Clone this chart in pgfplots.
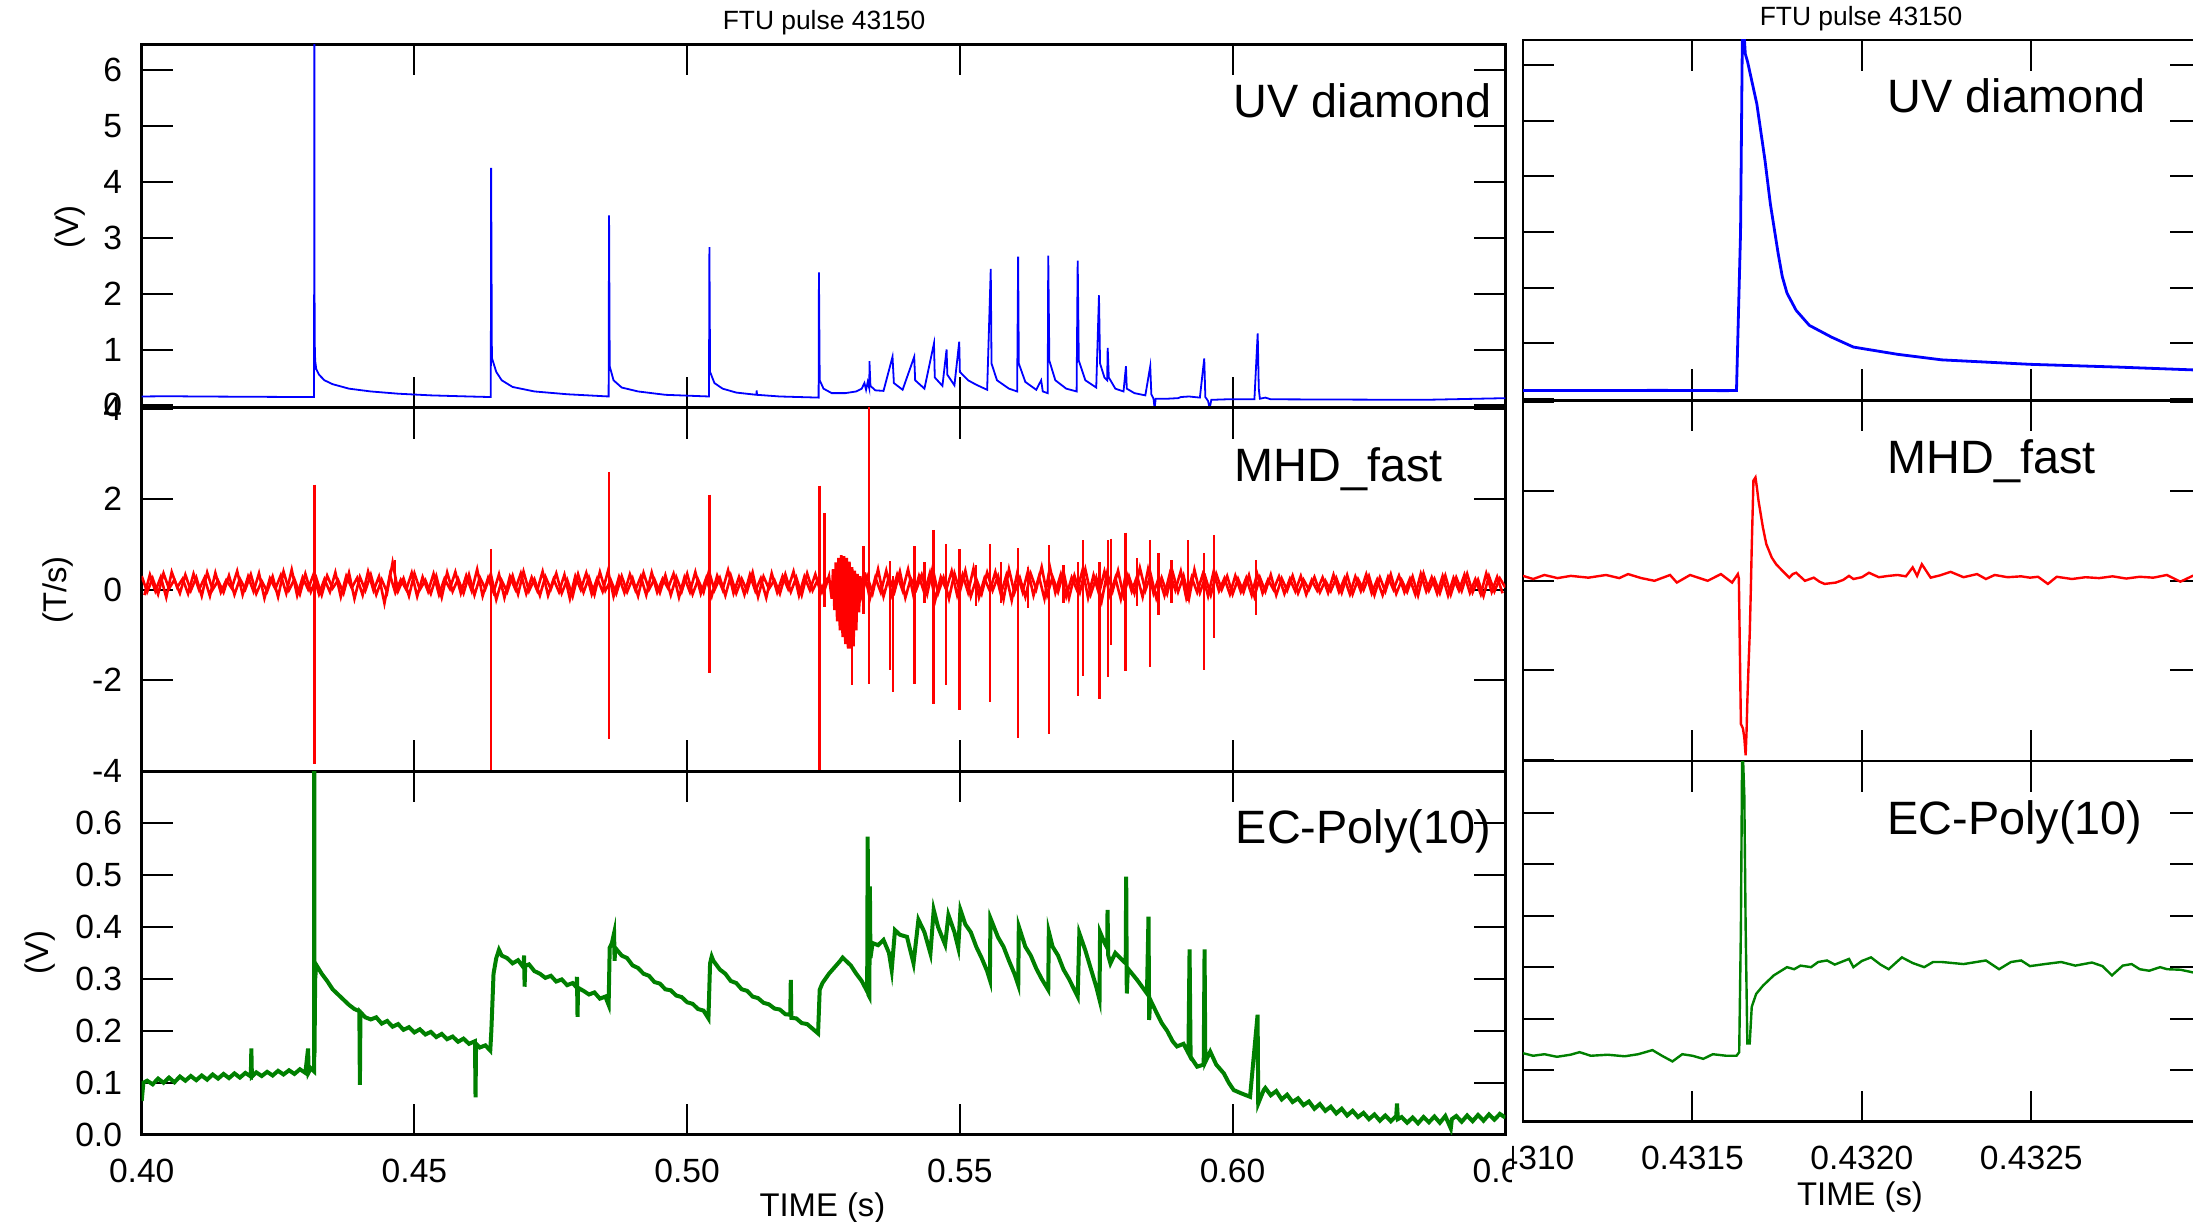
\documentclass[border=0pt]{standalone}
\usepackage{fontspec}
\setmainfont{Liberation Sans}
\usepackage{pgfplots}
\pgfplotsset{compat=1.18}
\definecolor{uvblue}{RGB}{0,0,255}
\definecolor{mhdred}{RGB}{255,0,0}
\definecolor{ecgreen}{RGB}{0,128,0}
\pgfplotsset{
  panel/.style={
    scale only axis,
    anchor=south west,
    axis line style={line width=0.67pt},
    every tick/.style={line width=0.5pt, black},
    major tick length=7.75pt,
    tick align=inside,
    tick pos=both,
    ticklabel pos=left,
    ticklabel style={font=\fontsize{8.4}{10}\selectfont},
    xticklabel style={yshift=-2.6pt},
    yticklabel style={xshift=-1.4pt},
    unbounded coords=jump,
  },
  leftpanel/.style={panel, width=340.9pt, height=90.875pt, xmin=0.40, xmax=0.65,
    xtick={0.40,0.45,0.50,0.55,0.60,0.65}},
  rightpanel/.style={panel, width=169.425pt, height=90.15pt, xmin=0.4310, xmax=0.4330,
    xtick={0.4310,0.4315,0.4320,0.4325,0.4330}, yticklabels={}},
}
\begin{document}
\begin{tikzpicture}
% ===================== LEFT: top (UV diamond) =====================
\begin{axis}[leftpanel, at={(35.43pt,203.33pt)}, ymin=-0.04, ymax=6.46,
  ytick={0,1,2,3,4,5,6}, yticklabels={0,1,2,3,4,5,6}, xticklabels={}]
\addplot[uvblue, line width=0.45pt] coordinates {
(0.4000,0.16)(0.4050,0.165)(0.4100,0.16)(0.4200,0.155)(0.4300,0.15)(0.4316,0.15)
(0.43165,7.5)(0.4317,1.2)(0.4318,0.80)(0.4320,0.65)(0.4325,0.55)(0.4335,0.45)(0.4350,0.38)
(0.4380,0.30)(0.4420,0.25)(0.4470,0.21)(0.4530,0.18)(0.4600,0.16)(0.4640,0.15)
(0.46406,4.25)(0.4642,0.85)(0.4650,0.60)(0.4660,0.45)(0.4680,0.33)(0.4720,0.25)(0.4780,0.20)(0.4856,0.16)
(0.48568,3.40)(0.4858,0.70)(0.4865,0.45)(0.4880,0.32)(0.4910,0.25)(0.4960,0.19)(0.5040,0.16)
(0.50408,2.83)(0.5042,0.60)(0.5050,0.40)(0.5065,0.30)(0.5090,0.23)(0.5127,0.19)(0.51275,0.27)(0.5128,0.19)(0.5170,0.16)(0.5241,0.14)
(0.52416,2.38)(0.5243,0.45)(0.5250,0.30)(0.5265,0.22)(0.5290,0.22)(0.5310,0.25)(0.5320,0.30)(0.5325,0.40)(0.5328,0.28)(0.5331,0.42)(0.5334,0.30)
(0.53342,0.79)(0.5336,0.35)(0.5345,0.27)(0.5360,0.26)
(0.53765,0.87)(0.5379,0.40)(0.5395,0.28)
(0.54163,0.87)(0.5418,0.45)(0.5435,0.30)
(0.54525,1.11)(0.5454,0.50)(0.5468,0.35)
(0.54756,1.00)(0.5477,0.55)(0.5490,0.36)
(0.54988,1.14)(0.5500,0.60)(0.5515,0.45)(0.5530,0.37)(0.5550,0.28)
(0.55566,2.44)(0.5558,0.75)(0.5568,0.45)(0.5590,0.30)(0.5605,0.25)
(0.56068,2.66)(0.5608,0.75)(0.5620,0.42)(0.5640,0.28)(0.5649,0.45)(0.5652,0.25)(0.5661,0.22)
(0.5662,2.68)(0.5664,0.80)(0.5675,0.45)(0.5695,0.30)(0.5714,0.25)
(0.5716,2.59)(0.5718,0.80)(0.5730,0.45)(0.5750,0.32)
(0.5755,1.97)(0.5757,0.75)(0.5765,0.50)(0.5770,0.45)
(0.5771,1.03)(0.5773,0.50)(0.5785,0.30)(0.5800,0.25)
(0.58045,0.70)(0.5806,0.30)(0.5820,0.22)(0.5840,0.18)
(0.5849,0.70)(0.5851,0.20)(0.5855,0.12)(0.5857,-0.05)(0.5859,0.12)(0.5880,0.12)(0.5900,0.13)(0.5905,0.15)(0.5920,0.16)(0.5940,0.14)
(0.5948,0.84)(0.5950,0.15)(0.5955,0.08)(0.5958,-0.05)(0.5961,0.10)(0.5990,0.11)(0.6040,0.11)
(0.6046,1.29)(0.6048,0.30)(0.6050,0.12)(0.6060,0.14)(0.6070,0.11)(0.6200,0.105)(0.6350,0.10)(0.6450,0.12)(0.6500,0.13)
};
\end{axis}
% ===================== LEFT: middle (MHD_fast) =====================
\begin{axis}[leftpanel, at={(35.43pt,112.45pt)}, ymin=-4.01, ymax=4.02,
  ytick={-4,-2,0,2,4}, yticklabels={-4,-2,0,2,4}, xticklabels={}]
\addplot[mhdred, line width=0.65pt] coordinates {
(0.400,0.30)(0.401,-0.05)(0.402,0.25)(0.403,-0.10)(0.404,0.36)(0.405,0.02)(0.406,0.22)(0.407,-0.08)(0.408,0.33)(0.409,-0.02)
(0.410,0.27)(0.411,-0.14)(0.412,0.38)(0.413,0.00)(0.414,0.20)(0.415,-0.06)(0.416,0.31)(0.417,-0.11)(0.418,0.24)(0.419,0.01)
(0.420,0.34)(0.421,-0.09)(0.422,0.19)(0.423,-0.04)(0.424,0.29)(0.425,-0.16)(0.426,0.40)(0.427,-0.01)(0.428,0.23)(0.429,-0.10)
(0.430,0.35)(0.431,-0.05)(0.432,0.26)(0.433,-0.12)(0.434,0.31)(0.435,0.03)(0.436,0.21)(0.437,-0.08)(0.438,0.37)(0.439,-0.20)
(0.440,0.28)(0.441,-0.02)(0.442,0.33)(0.443,-0.11)(0.444,0.22)(0.445,-0.06)(0.446,0.60)(0.447,-0.03)(0.448,0.25)(0.449,-0.14)
(0.450,0.36)(0.451,0.00)(0.452,0.21)(0.453,-0.09)(0.454,0.30)(0.455,-0.17)(0.456,0.38)(0.457,-0.04)(0.458,0.24)(0.459,-0.08)
(0.460,0.33)(0.461,-0.12)(0.462,0.27)(0.463,0.02)(0.464,0.35)(0.465,-0.22)(0.466,0.20)(0.467,-0.05)(0.468,0.31)(0.469,-0.10)
(0.470,0.40)(0.471,-0.03)(0.472,0.23)(0.473,-0.13)(0.474,0.29)(0.475,0.01)(0.476,0.36)(0.477,-0.08)(0.478,0.22)(0.479,-0.15)
(0.480,0.34)(0.481,-0.06)(0.482,0.27)(0.483,-0.11)(0.484,0.39)(0.485,-0.02)(0.486,0.21)(0.487,-0.09)(0.488,0.30)(0.489,-0.05)
(0.490,0.25)(0.491,-0.14)(0.492,0.37)(0.493,0.00)(0.494,0.23)(0.495,-0.07)(0.496,0.32)(0.497,-0.12)(0.498,0.28)(0.499,-0.04)
(0.500,0.35)(0.501,-0.10)(0.502,0.22)(0.503,-0.06)(0.504,0.41)(0.505,-0.01)(0.506,0.26)(0.507,-0.13)(0.508,0.31)(0.509,-0.08)
(0.510,0.24)(0.511,-0.03)(0.512,0.38)(0.513,-0.16)(0.514,0.29)(0.515,0.02)(0.516,0.21)(0.517,-0.09)(0.518,0.34)(0.519,-0.05)
(0.520,0.27)(0.521,-0.12)(0.522,0.36)(0.523,-0.02)(0.524,0.23)(0.525,-0.08)(0.526,0.30)
(0.5265,-0.20)(0.52675,0.45)(0.5270,-0.45)(0.52725,0.60)(0.5275,-0.70)(0.52775,0.70)(0.5280,-0.90)(0.52825,0.76)(0.5285,-1.05)(0.52875,0.74)
(0.5290,-1.20)(0.52925,0.70)(0.5295,-1.30)(0.52975,0.62)(0.5300,-1.30)(0.53025,0.50)(0.5305,-1.25)(0.53075,0.42)(0.5310,-0.90)(0.53125,0.35)(0.5315,-0.50)(0.53175,0.30)
(0.532,-0.12)(0.533,0.30)(0.534,-0.08)(0.535,0.45)(0.536,-0.15)(0.537,0.28)(0.538,-0.05)(0.539,0.40)
(0.540,-0.18)(0.541,0.25)(0.542,0.00)(0.543,0.33)(0.544,-0.10)(0.545,0.48)(0.546,-0.08)(0.547,0.27)(0.548,-0.20)(0.549,0.36)
(0.550,-0.04)(0.551,0.42)(0.552,-0.15)(0.553,0.24)(0.554,-0.09)(0.555,0.38)(0.556,-0.02)(0.557,0.30)(0.558,-0.22)(0.559,0.45)
(0.560,-0.07)(0.561,0.26)(0.562,-0.16)(0.563,0.35)(0.564,0.01)(0.565,0.50)(0.566,-0.12)(0.567,0.28)(0.568,-0.05)(0.569,0.40)
(0.570,-0.19)(0.571,0.31)(0.572,-0.06)(0.573,0.45)(0.574,-0.10)(0.575,0.27)(0.576,-0.25)(0.577,0.37)(0.578,-0.03)(0.579,0.42)
(0.580,-0.14)(0.581,0.29)(0.582,-0.08)(0.583,0.48)(0.584,-0.02)(0.585,0.33)(0.586,-0.18)(0.587,0.26)(0.588,-0.09)(0.589,0.39)
(0.590,-0.05)(0.591,0.31)(0.592,-0.20)(0.593,0.44)(0.594,-0.07)(0.595,0.28)(0.596,-0.12)(0.597,0.35)(0.598,0.00)(0.599,0.30)
(0.600,-0.10)(0.601,0.24)(0.602,-0.06)(0.603,0.32)(0.604,-0.15)(0.605,0.27)(0.606,-0.04)(0.607,0.33)(0.608,-0.12)(0.609,0.25)
(0.610,-0.02)(0.611,0.31)(0.612,-0.08)(0.613,0.22)(0.614,0.00)(0.615,0.28)(0.616,-0.06)(0.617,0.20)(0.618,-0.03)(0.619,0.26)
(0.620,-0.07)(0.621,0.32)(0.622,-0.10)(0.623,0.23)(0.624,-0.01)(0.625,0.30)(0.626,-0.12)(0.627,0.27)(0.628,-0.04)(0.629,0.34)
(0.630,-0.09)(0.631,0.21)(0.632,-0.05)(0.633,0.29)(0.634,-0.13)(0.635,0.36)(0.636,-0.02)(0.637,0.24)(0.638,-0.08)(0.639,0.31)
(0.640,-0.11)(0.641,0.27)(0.642,-0.03)(0.643,0.35)(0.644,-0.06)(0.645,0.22)(0.646,-0.14)(0.647,0.30)(0.648,-0.04)(0.649,0.25)(0.650,0.05)
};
\addplot[mhdred, line width=0.65pt] coordinates {
(0.4005,-0.12)(0.4015,0.33)(0.4025,-0.03)(0.4035,0.28)(0.4045,-0.17)(0.4055,0.39)(0.4065,0.05)(0.4075,0.24)(0.4085,-0.09)(0.4095,0.35)
(0.4105,0.00)(0.4115,0.26)(0.4125,-0.14)(0.4135,0.37)(0.4145,-0.06)(0.4155,0.21)(0.4165,0.03)(0.4175,0.41)(0.4185,-0.11)(0.4195,0.29)
(0.4205,-0.04)(0.4215,0.36)(0.4225,-0.19)(0.4235,0.25)(0.4245,0.02)(0.4255,0.32)(0.4265,-0.08)(0.4275,0.44)(0.4285,-0.13)(0.4295,0.27)
(0.4305,0.01)(0.4315,0.34)(0.4325,-0.10)(0.4335,0.23)(0.4345,-0.05)(0.4355,0.38)(0.4365,-0.16)(0.4375,0.30)(0.4385,0.04)(0.4395,0.26)
(0.4405,-0.12)(0.4415,0.40)(0.4425,-0.02)(0.4435,0.29)(0.4445,-0.30)(0.4455,0.33)(0.4465,-0.07)(0.4475,0.22)(0.4485,0.00)(0.4495,0.37)
(0.4505,-0.15)(0.4515,0.28)(0.4525,-0.04)(0.4535,0.35)(0.4545,-0.11)(0.4555,0.24)(0.4565,0.02)(0.4575,0.39)(0.4585,-0.08)(0.4595,0.31)
(0.4605,-0.03)(0.4615,0.45)(0.4625,-0.14)(0.4635,0.26)(0.4645,-0.06)(0.4655,0.34)(0.4665,-0.18)(0.4675,0.29)(0.4685,0.01)(0.4695,0.36)
(0.4705,-0.09)(0.4715,0.27)(0.4725,-0.02)(0.4735,0.40)(0.4745,-0.13)(0.4755,0.23)(0.4765,-0.05)(0.4775,0.33)(0.4785,-0.20)(0.4795,0.30)
(0.4805,0.00)(0.4815,0.37)(0.4825,-0.10)(0.4835,0.25)(0.4845,-0.04)(0.4855,0.42)(0.4865,-0.15)(0.4875,0.28)(0.4885,-0.07)(0.4895,0.34)
(0.4905,-0.01)(0.4915,0.29)(0.4925,-0.12)(0.4935,0.38)(0.4945,-0.06)(0.4955,0.24)(0.4965,0.03)(0.4975,0.35)(0.4985,-0.17)(0.4995,0.27)
(0.5005,-0.05)(0.5015,0.39)(0.5025,-0.09)(0.5035,0.26)(0.5045,-0.14)(0.5055,0.31)(0.5065,0.00)(0.5075,0.43)(0.5085,-0.08)(0.5095,0.28)
(0.5105,-0.11)(0.5115,0.33)(0.5125,-0.03)(0.5135,0.25)(0.5145,-0.18)(0.5155,0.36)(0.5165,-0.06)(0.5175,0.30)(0.5185,0.02)(0.5195,0.40)
(0.5205,-0.13)(0.5215,0.29)(0.5225,-0.01)(0.5235,0.34)(0.5245,-0.07)(0.5255,0.27)(0.5260,nan)
(0.5325,0.38)(0.5335,-0.20)(0.5345,0.27)(0.5355,-0.06)(0.5365,0.42)(0.5375,-0.11)(0.5385,0.33)(0.5395,-0.02)
(0.5405,0.45)(0.5415,-0.14)(0.5425,0.30)(0.5435,-0.08)(0.5445,0.37)(0.5455,-0.22)(0.5465,0.28)(0.5475,0.00)(0.5485,0.41)(0.5495,-0.12)
(0.5505,0.33)(0.5515,-0.06)(0.5525,0.47)(0.5535,-0.17)(0.5545,0.25)(0.5555,-0.03)(0.5565,0.39)(0.5575,-0.10)(0.5585,0.31)(0.5595,-0.24)
(0.5605,0.36)(0.5615,-0.05)(0.5625,0.42)(0.5635,-0.13)(0.5645,0.29)(0.5655,-0.20)(0.5665,0.50)(0.5675,-0.07)(0.5685,0.34)(0.5695,-0.15)
(0.5705,0.27)(0.5715,-0.02)(0.5725,0.44)(0.5735,-0.18)(0.5745,0.32)(0.5755,-0.09)(0.5765,0.40)(0.5775,-0.12)(0.5785,0.26)(0.5795,-0.21)
(0.5805,0.38)(0.5815,-0.04)(0.5825,0.30)(0.5835,-0.16)(0.5845,0.45)(0.5855,-0.08)(0.5865,0.28)(0.5875,-0.13)(0.5885,0.36)(0.5895,-0.01)
(0.5905,0.41)(0.5915,-0.18)(0.5925,0.27)(0.5935,-0.06)(0.5945,0.33)(0.5955,-0.14)(0.5965,0.39)(0.5975,-0.03)(0.5985,0.25)(0.5995,-0.10)
(0.6005,0.31)(0.6015,-0.05)(0.6025,0.26)(0.6035,-0.12)(0.6045,0.35)(0.6055,-0.08)(0.6065,0.22)(0.6075,0.00)(0.6085,0.29)(0.6095,-0.09)
(0.6105,0.24)(0.6115,-0.04)(0.6125,0.30)(0.6135,-0.11)(0.6145,0.21)(0.6155,-0.02)(0.6165,0.27)(0.6175,-0.07)(0.6185,0.33)(0.6195,-0.05)
(0.6205,0.25)(0.6215,-0.10)(0.6225,0.29)(0.6235,-0.03)(0.6245,0.34)(0.6255,-0.08)(0.6265,0.22)(0.6275,-0.12)(0.6285,0.28)(0.6295,0.00)
(0.6305,0.31)(0.6315,-0.06)(0.6325,0.24)(0.6335,-0.11)(0.6345,0.35)(0.6355,-0.04)(0.6365,0.27)(0.6375,-0.09)(0.6385,0.30)(0.6395,-0.13)
(0.6405,0.26)(0.6415,-0.02)(0.6425,0.33)(0.6435,-0.07)(0.6445,0.23)(0.6455,-0.10)(0.6465,0.36)(0.6475,-0.05)(0.6485,0.28)(0.6495,-0.08)
};
\addplot[mhdred, line width=0.55pt] coordinates {
(0.43166,2.32)(0.43166,-3.86)(0.43166,nan)
(0.44645,0.66)(0.44645,-0.05)(0.44645,nan)
(0.46406,0.90)(0.46406,-4.5)(0.46406,nan)
(0.48568,2.60)(0.48568,-3.29)(0.48568,nan)
(0.50408,2.10)(0.50408,-1.84)(0.50408,nan)
(0.52426,2.30)(0.52426,-4.5)(0.52426,nan)
(0.52518,1.69)(0.52518,-0.38)(0.52518,nan)
(0.53020,0.20)(0.53020,-2.11)(0.53020,nan)
(0.53233,0.96)(0.53233,-0.53)(0.53233,nan)
(0.53338,4.5)(0.53338,-2.08)(0.53338,nan)
(0.53722,0.63)(0.53722,-1.78)(0.53722,nan)
(0.53773,0.30)(0.53773,-2.27)(0.53773,nan)
(0.54168,0.96)(0.54168,-2.08)(0.54168,nan)
(0.5435,0.60)(0.5435,-0.30)(0.5435,nan)
(0.54517,1.32)(0.54517,-2.52)(0.54517,nan)
(0.54744,1.01)(0.54744,-2.11)(0.54744,nan)
(0.54994,0.89)(0.54994,-2.66)(0.54994,nan)
(0.5530,0.55)(0.5530,-0.35)(0.5530,nan)
(0.55556,1.01)(0.55556,-2.48)(0.55556,nan)
(0.5575,0.60)(0.5575,-0.30)(0.5575,nan)
(0.56070,0.92)(0.56070,-3.28)(0.56070,nan)
(0.5625,0.50)(0.5625,-0.40)(0.5625,nan)
(0.56633,0.98)(0.56633,-3.18)(0.56633,nan)
(0.5690,0.55)(0.5690,-0.30)(0.5690,nan)
(0.57165,0.60)(0.57165,-2.36)(0.57165,nan)
(0.57256,1.09)(0.57256,-1.91)(0.57256,nan)
(0.57561,0.60)(0.57561,-2.42)(0.57561,nan)
(0.57715,1.09)(0.57715,-1.94)(0.57715,nan)
(0.57776,1.13)(0.57776,-1.23)(0.57776,nan)
(0.58038,1.26)(0.58038,-1.80)(0.58038,nan)
(0.5825,0.70)(0.5825,-0.35)(0.5825,nan)
(0.58491,1.10)(0.58491,-1.71)(0.58491,nan)
(0.58643,0.81)(0.58643,-0.55)(0.58643,nan)
(0.5888,0.65)(0.5888,-0.30)(0.5888,nan)
(0.59175,1.09)(0.59175,-0.24)(0.59175,nan)
(0.59481,0.81)(0.59481,-1.78)(0.59481,nan)
(0.59664,1.21)(0.59664,-1.06)(0.59664,nan)
(0.60434,0.66)(0.60434,-0.55)
};
\end{axis}
% ===================== LEFT: bottom (EC-Poly) =====================
\begin{axis}[leftpanel, at={(35.43pt,21.575pt)}, ymin=0, ymax=0.70,
  ytick={0,0.1,0.2,0.3,0.4,0.5,0.6}, yticklabels={0.0,0.1,0.2,0.3,0.4,0.5,0.6},
  xticklabels={0.40,0.45,0.50,0.55,0.60,0.65}]
\addplot[ecgreen, line width=1.0pt] coordinates {
(0.4000,0.065)(0.4003,0.100)(0.401,0.104)(0.402,0.097)(0.403,0.108)(0.404,0.100)(0.405,0.110)(0.406,0.101)(0.407,0.112)(0.408,0.104)(0.409,0.113)
(0.410,0.105)(0.411,0.114)(0.412,0.106)(0.413,0.116)(0.414,0.108)(0.415,0.117)(0.416,0.109)(0.417,0.118)(0.418,0.110)(0.419,0.119)
(0.4200,0.112)(0.4201,0.166)(0.4202,0.112)(0.421,0.120)(0.422,0.113)(0.423,0.121)(0.424,0.114)(0.425,0.123)(0.426,0.116)(0.427,0.124)(0.428,0.117)(0.429,0.126)
(0.4300,0.119)(0.4305,0.166)(0.4306,0.120)(0.431,0.128)(0.4316,0.122)(0.43163,0.95)(0.43167,0.15)(0.4318,0.30)(0.4320,0.327)
(0.433,0.310)(0.434,0.296)(0.435,0.280)(0.436,0.270)(0.437,0.260)(0.438,0.250)(0.439,0.242)(0.4399,0.238)(0.4400,0.096)(0.4401,0.236)
(0.441,0.226)(0.442,0.222)(0.443,0.226)(0.444,0.214)(0.445,0.219)(0.446,0.208)(0.447,0.213)(0.448,0.202)(0.449,0.207)(0.450,0.197)
(0.451,0.203)(0.452,0.193)(0.453,0.198)(0.454,0.188)(0.455,0.194)(0.456,0.184)(0.457,0.189)(0.458,0.179)(0.459,0.185)(0.460,0.175)
(0.4611,0.180)(0.4612,0.072)(0.4613,0.175)(0.462,0.168)(0.463,0.172)(0.4639,0.162)
(0.4641,0.20)(0.4645,0.31)(0.4650,0.34)(0.4655,0.356)(0.466,0.345)(0.467,0.340)(0.468,0.330)(0.469,0.336)
(0.4700,0.322)(0.4701,0.345)(0.4702,0.285)(0.4703,0.325)(0.471,0.328)(0.472,0.315)(0.473,0.310)(0.474,0.302)(0.475,0.306)(0.476,0.295)(0.477,0.299)(0.478,0.288)(0.479,0.292)
(0.4797,0.284)(0.4798,0.304)(0.4799,0.227)(0.4800,0.283)(0.481,0.277)(0.482,0.270)(0.483,0.274)(0.484,0.262)(0.485,0.266)(0.4856,0.250)
(0.4858,0.36)(0.4862,0.369)(0.4866,0.388)(0.4867,0.335)(0.4868,0.36)(0.488,0.345)(0.489,0.340)(0.490,0.326)(0.491,0.321)(0.492,0.310)(0.493,0.306)
(0.494,0.294)(0.495,0.291)(0.496,0.280)(0.497,0.278)(0.498,0.268)(0.499,0.265)(0.500,0.255)(0.501,0.252)(0.502,0.242)(0.503,0.239)(0.5039,0.224)
(0.5042,0.33)(0.5045,0.343)(0.5048,0.335)(0.506,0.318)(0.507,0.310)(0.508,0.296)(0.509,0.292)(0.510,0.280)(0.511,0.277)(0.512,0.266)(0.513,0.263)
(0.514,0.254)(0.515,0.251)(0.516,0.243)(0.517,0.241)(0.518,0.232)(0.5189,0.231)(0.5190,0.298)(0.5191,0.225)(0.520,0.224)(0.521,0.215)(0.522,0.213)(0.523,0.204)(0.5240,0.195)
(0.5243,0.279)(0.5248,0.292)(0.526,0.310)(0.527,0.322)(0.528,0.334)(0.5285,0.341)(0.529,0.336)(0.530,0.326)(0.531,0.310)(0.532,0.296)(0.5330,0.276)
(0.5331,0.574)(0.5332,0.270)(0.5334,0.266)(0.5335,0.478)(0.5336,0.34)(0.534,0.369)(0.535,0.365)(0.536,0.375)(0.5370,0.350)(0.5375,0.317)(0.5381,0.394)
(0.539,0.385)(0.5403,0.381)(0.5415,0.330)(0.5424,0.414)(0.5435,0.39)(0.5446,0.349)(0.5452,0.433)(0.546,0.40)(0.5473,0.366)(0.5479,0.423)(0.549,0.39)(0.5497,0.36)(0.5501,0.433)
(0.551,0.405)(0.552,0.390)(0.553,0.362)(0.554,0.340)(0.555,0.315)(0.5555,0.298)(0.5556,0.417)(0.557,0.380)(0.558,0.362)(0.559,0.335)(0.560,0.310)(0.5607,0.288)
(0.5608,0.401)(0.562,0.362)(0.563,0.345)(0.564,0.320)(0.565,0.300)(0.5662,0.279)(0.5663,0.391)(0.567,0.362)(0.568,0.345)(0.569,0.318)(0.570,0.300)(0.5716,0.266)
(0.5719,0.388)(0.573,0.355)(0.574,0.320)(0.575,0.285)(0.5756,0.26)(0.5757,0.39)(0.5765,0.37)(0.5770,0.36)(0.57707,0.433)(0.5772,0.345)(0.5776,0.33)(0.5785,0.35)
(0.5797,0.337)(0.5804,0.33)(0.58049,0.497)(0.5806,0.272)(0.5808,0.32)(0.5825,0.298)(0.5843,0.272)(0.58458,0.42)(0.5847,0.221)(0.5849,0.26)(0.5861,0.234)
(0.5870,0.215)(0.5880,0.200)(0.5890,0.180)(0.5898,0.170)(0.5910,0.175)(0.5919,0.157)(0.59211,0.357)(0.5923,0.15)(0.5935,0.131)(0.5947,0.135)(0.59486,0.357)
(0.5950,0.14)(0.5959,0.16)(0.5970,0.135)(0.5984,0.118)(0.5993,0.100)(0.6002,0.086)(0.6015,0.080)(0.6032,0.073)(0.60458,0.231)(0.6047,0.060)(0.6057,0.086)
(0.606,0.090)(0.607,0.076)(0.608,0.084)(0.609,0.068)(0.610,0.077)(0.611,0.063)(0.612,0.070)(0.613,0.057)(0.614,0.064)(0.615,0.050)(0.616,0.059)(0.617,0.046)
(0.618,0.054)(0.619,0.041)(0.620,0.050)(0.621,0.037)(0.622,0.046)(0.623,0.034)(0.624,0.042)(0.625,0.030)(0.626,0.039)(0.627,0.027)(0.628,0.037)(0.629,0.026)
(0.630,0.036)(0.63014,0.060)(0.6303,0.030)(0.631,0.034)(0.632,0.023)(0.633,0.033)(0.634,0.022)(0.635,0.034)(0.636,0.024)(0.637,0.035)(0.638,0.023)(0.639,0.036)
(0.6400,0.012)(0.6402,0.030)(0.641,0.036)(0.642,0.025)(0.643,0.037)(0.644,0.026)(0.645,0.038)(0.646,0.027)(0.647,0.039)(0.648,0.029)(0.649,0.040)(0.650,0.033)
};
\end{axis}
% ===================== RIGHT PANELS =====================
\begin{scope}
\clip (378pt,-5pt) rectangle (560pt,320pt);
\fill[white] (378pt,-5pt) rectangle (560pt,320pt);
\begin{axis}[rightpanel, at={(380.75pt,205.125pt)}, ymin=-0.03, ymax=6.45,
  ytick={0,1,2,3,4,5,6}, xticklabels={}]
\addplot[uvblue, line width=0.7pt] coordinates {
(0.43100,0.150)(0.43120,0.148)(0.43140,0.152)(0.43160,0.147)(0.43163,0.150)(0.431642,3.0)(0.431648,7.0)(0.431656,6.2)(0.431663,6.05)
(0.43169,5.3)(0.431714,4.29)(0.43173,3.5)(0.431753,2.61)(0.431765,2.2)(0.431779,1.9)(0.431806,1.59)(0.431845,1.32)(0.43191,1.11)
(0.431975,0.93)(0.432105,0.80)(0.432236,0.70)(0.432496,0.62)(0.432757,0.57)(0.432976,0.52)(0.433000,0.515)
};
\end{axis}
\begin{axis}[rightpanel, at={(380.75pt,114.975pt)}, ymin=-4.03, ymax=4.03,
  ytick={-4,-2,0,2,4}, xticklabels={}]
\addplot[mhdred, line width=0.6pt] coordinates {
(0.431000,0.11)(0.431030,0.04)(0.431063,0.13)(0.431102,0.06)(0.431141,0.11)(0.431193,0.07)(0.431245,0.13)(0.431284,0.06)(0.431310,0.15)
(0.431349,0.06)(0.431388,0.00)(0.431434,0.13)(0.431454,-0.04)(0.431493,0.13)(0.431545,0.00)(0.431584,0.15)(0.431617,-0.04)(0.431634,0.15)
(0.431637,0.05)(0.431643,-3.2)(0.431649,-3.3)(0.431653,-3.5)(0.431657,-3.9)(0.431660,-3.3)(0.431662,-2.7)(0.431666,-1.8)(0.431669,-1.2)
(0.431672,-0.3)(0.431675,0.75)(0.431680,2.24)(0.431686,2.31)(0.431690,2.1)(0.431695,1.79)(0.431708,1.19)(0.431718,0.82)(0.431734,0.52)
(0.431747,0.37)(0.431766,0.22)(0.431786,0.07)(0.431796,0.15)(0.431806,0.18)(0.431832,0.00)(0.431858,0.07)(0.431875,-0.02)(0.431890,-0.07)
(0.431923,-0.04)(0.431945,0.02)(0.431962,0.11)(0.431975,0.04)(0.432000,0.08)(0.432021,0.18)(0.432050,0.08)(0.432079,0.11)(0.432105,0.13)
(0.432130,0.10)(0.432150,0.30)(0.432163,0.11)(0.432177,0.37)(0.432203,0.07)(0.432230,0.12)(0.432262,0.20)(0.432300,0.08)(0.432340,0.15)
(0.432366,0.04)(0.432392,0.13)(0.432430,0.08)(0.432470,0.10)(0.432496,0.07)(0.432520,0.09)(0.432549,-0.07)(0.432575,0.09)(0.432620,0.04)
(0.432660,0.08)(0.432700,0.06)(0.432740,0.10)(0.432780,0.05)(0.432820,0.09)(0.432860,0.07)(0.432900,0.13)(0.432940,-0.02)(0.432976,0.11)(0.433000,0.10)
};
\end{axis}
\begin{axis}[rightpanel, at={(380.75pt,24.825pt)}, ymin=0, ymax=0.70,
  ytick={0,0.1,0.2,0.3,0.4,0.5,0.6,0.7}, xticklabels={0.4310,0.4315,0.4320,0.4325,{}}]
\addplot[ecgreen, line width=0.6pt] coordinates {
(0.431000,0.133)(0.431030,0.128)(0.431063,0.131)(0.431100,0.126)(0.431140,0.130)(0.431167,0.135)(0.431200,0.128)(0.431250,0.130)(0.431300,0.127)
(0.431340,0.131)(0.431382,0.139)(0.431410,0.128)(0.431441,0.117)(0.431470,0.131)(0.431500,0.128)(0.431532,0.122)(0.431560,0.131)(0.431600,0.128)
(0.431630,0.128)(0.431638,0.135)(0.431643,0.377)(0.431647,0.75)(0.431653,0.635)(0.431657,0.377)(0.431662,0.152)(0.431669,0.152)(0.431675,0.223)
(0.431688,0.248)(0.431708,0.264)(0.431740,0.284)(0.431779,0.300)(0.431800,0.296)(0.431819,0.303)(0.431850,0.300)(0.431871,0.310)(0.431897,0.313)
(0.431920,0.305)(0.431962,0.316)(0.431975,0.300)(0.432000,0.312)(0.432027,0.319)(0.432055,0.305)(0.432079,0.296)(0.432118,0.319)(0.432150,0.308)
(0.432184,0.300)(0.432210,0.310)(0.432236,0.310)(0.432300,0.306)(0.432366,0.313)(0.432405,0.296)(0.432440,0.310)(0.432470,0.313)(0.432496,0.302)
(0.432540,0.306)(0.432588,0.310)(0.432630,0.303)(0.432679,0.309)(0.432710,0.302)(0.432738,0.284)(0.432770,0.303)(0.432796,0.306)(0.432820,0.296)
(0.432848,0.293)(0.432880,0.300)(0.432901,0.296)(0.432940,0.295)(0.432976,0.290)(0.433000,0.292)
};
\end{axis}
\node[anchor=base, font=\fontsize{6.6}{8}\selectfont] at (465.25pt,298.75pt) {FTU pulse 43150};
\node[anchor=base west, inner sep=0pt, font=\fontsize{11.7}{14}\selectfont] at (471.7pt,277pt) {UV diamond};
\node[anchor=base west, inner sep=0pt, font=\fontsize{11.7}{14}\selectfont] at (471.7pt,186.9pt) {MHD\_fast};
\node[anchor=base west, inner sep=0pt, font=\fontsize{11.7}{14}\selectfont] at (471.7pt,96.5pt) {EC-Poly(10)};
\node[anchor=base, inner sep=0pt, font=\fontsize{8.2}{9.8}\selectfont] at (465pt,4pt) {TIME (s)};
\end{scope}
% ===================== LEFT texts =====================
\node[anchor=base, font=\fontsize{6.6}{8}\selectfont] at (206pt,297.75pt) {FTU pulse 43150};
\node[anchor=base west, inner sep=0pt, font=\fontsize{11.7}{14}\selectfont] at (308.25pt,275.75pt) {UV diamond};
\node[anchor=base west, inner sep=0pt, font=\fontsize{11.7}{14}\selectfont] at (308.5pt,184.8pt) {MHD\_fast};
\node[anchor=base west, inner sep=0pt, font=\fontsize{11.7}{14}\selectfont] at (308.75pt,94.4pt) {EC-Poly(10)};
\node[anchor=base, inner sep=0pt, font=\fontsize{8.2}{9.8}\selectfont] at (205.6pt,1.1pt) {TIME (s)};
\node[rotate=90, inner sep=0pt, font=\fontsize{8.2}{9.8}\selectfont] at (17.5pt,248.5pt) {(V)};
\node[rotate=90, inner sep=0pt, font=\fontsize{8.2}{9.8}\selectfont] at (14.5pt,157.75pt) {(T/s)};
\node[rotate=90, inner sep=0pt, font=\fontsize{8.2}{9.8}\selectfont] at (10pt,67.1pt) {(V)};
\pgfresetboundingbox
\useasboundingbox (0pt,0pt) rectangle (548.25pt,305.25pt);
\end{tikzpicture}
\end{document}
